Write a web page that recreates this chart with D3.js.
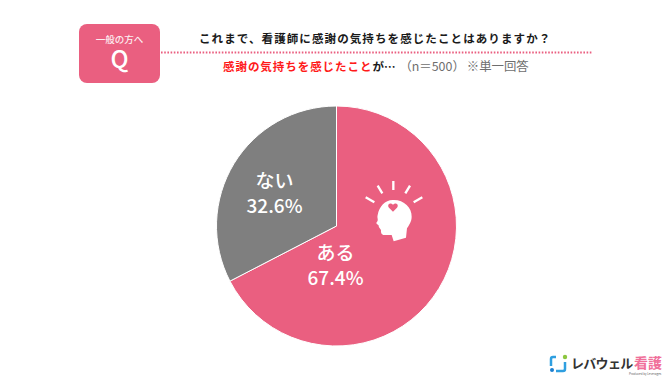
<!DOCTYPE html>
<html>
<head>
<meta charset="utf-8">
<script src="https://cdn.jsdelivr.net/npm/d3@7"></script>
<style>
html, body { margin: 0; padding: 0; background: #fff; }
text { font-family: "Noto Sans CJK JP", "Noto Sans", sans-serif; }
</style>
</head>
<body>
<div id="chart"></div>
<script>
var categories = ["ある", "ない"];
var values = [67.4, 32.6];
var sliceColors = ["#ea5f80", "#7f7f7f"];
var questionText = "これまで、看護師に感謝の気持ちを感じたことはありますか？";
var answerText = "感謝の気持ちを感じたこと";
var sampleText = "（n＝500）";
var noteText = "※単一回答";

function init(){
	var w = 672;
	var h = 378;
	var cx = 336.5;
	var cy = 226;
	var radius = 120;
	var pink = "#ea5f80";

	var svg = d3.select("#chart")
				.append("svg")
				.attr("width", w)
				.attr("height", h)
				.style("display", "block");

	//question badge
	svg.append("rect")
		.attr("x", 79).attr("y", 24)
		.attr("width", 81).attr("height", 59)
		.attr("rx", 8)
		.attr("fill", pink);
	svg.append("text")
		.attr("x", 119.5).attr("y", 42.5)
		.attr("text-anchor", "middle")
		.attr("font-size", 9.5)
		.attr("font-weight", 500)
		.attr("fill", "#fff")
		.attr("fill-opacity", 0.9)
		.text("一般の方へ");
	svg.append("text")
		.attr("x", 119.5).attr("y", 68)
		.attr("text-anchor", "middle")
		.attr("font-size", 24)
		.attr("font-weight", 500)
		.attr("fill", "#fff")
		.text("Q");

	//dotted rule
	svg.append("line")
		.attr("x1", 161).attr("x2", 592)
		.attr("y1", 52.5).attr("y2", 52.5)
		.attr("stroke", pink)
		.attr("stroke-width", 2)
		.attr("stroke-dasharray", "1.6 1.6");

	//heading
	svg.append("text")
		.attr("x", 199).attr("y", 42.5)
		.attr("font-size", 11.5)
		.attr("font-weight", 700)
		.attr("letter-spacing", 1.1)
		.attr("fill", "#1a1a1a")
		.text(questionText);

	var sub = svg.append("text")
		.attr("x", 223).attr("y", 71)
		.attr("font-size", 11.5);
	sub.append("tspan")
		.attr("font-weight", 700)
		.attr("letter-spacing", 0.95)
		.attr("fill", "#ff1a1a")
		.text(answerText);
	sub.append("tspan")
		.attr("font-weight", 700)
		.attr("fill", "#1a1a1a")
		.text("が…");
	sub.append("tspan")
		.attr("dx", 4)
		.attr("font-size", 12.4)
		.attr("fill", "#6e6e6e")
		.text(sampleText);
	sub.append("tspan")
		.attr("dx", 2)
		.attr("font-size", 12.4)
		.attr("fill", "#6e6e6e")
		.text(noteText);

	//pie
	var pie = d3.pie().sort(null);
	var arc = d3.arc().innerRadius(0).outerRadius(radius);
	var color = d3.scaleOrdinal().domain(categories).range(sliceColors);

	var g = svg.append("g")
		.attr("transform", "translate(" + cx + "," + cy + ")");

	g.selectAll("path")
		.data(pie(values))
		.enter()
		.append("path")
		.attr("d", arc)
		.attr("fill", function(d, i){ return color(categories[i]); })
		.attr("stroke", "#fff")
		.attr("stroke-width", 1);

	//slice labels
	var labelPos = [[-1, 34], [-62, -38]];
	values.forEach(function(v, i){
		g.append("text")
			.attr("x", labelPos[i][0]).attr("y", labelPos[i][1])
			.attr("text-anchor", "middle")
			.attr("font-size", 19)
			.attr("font-weight", 500)
			.attr("fill", "#fff")
			.text(categories[i]);
		g.append("text")
			.attr("x", labelPos[i][0]).attr("y", labelPos[i][1] + 25)
			.attr("text-anchor", "middle")
			.attr("font-size", 19)
			.attr("font-weight", 500)
			.attr("fill", "#fff")
			.text(v.toFixed(1) + "%");
	});

	//head icon, drawn on the 3x grid it was measured on
	var icon = svg.append("g")
		.attr("transform", "translate(350,170) scale(0.3333)");
	icon.append("path")
		.attr("d", "M128 90 C160 88 186 112 185 140 C185 155 177 165 171 175 L168 203 L131 214 L125 195 L100 195 C94 194 92 186 93 180 L86 170 C90 165 78 163 79 158 C88 150 80 145 83 135 C88 108 105 91 128 90 Z")
		.attr("fill", "#fff");
	icon.append("path")
		.attr("d", "M129 125 L117 113 C110 105 120 95 129 104 C138 95 148 105 141 113 Z")
		.attr("fill", pink);
	var rays = [[130, 33, 130, 60], [83, 47, 97, 70], [47, 82, 73, 97], [180, 47, 166, 70], [217, 82, 191, 97]];
	icon.selectAll("line")
		.data(rays)
		.enter()
		.append("line")
		.attr("x1", function(d){ return d[0]; })
		.attr("y1", function(d){ return d[1]; })
		.attr("x2", function(d){ return d[2]; })
		.attr("y2", function(d){ return d[3]; })
		.attr("stroke", "#fff")
		.attr("stroke-width", 7);

	//logo
	var logo = svg.append("g");
	logo.append("path")
		.attr("d", "M556 357 L553 357 Q551 357 551 359 L551 366")
		.attr("fill", "none")
		.attr("stroke", "#2f9fe0")
		.attr("stroke-width", 2.5);
	logo.append("path")
		.attr("d", "M565 362 L565 369 Q565 371 563 371 L556 371")
		.attr("fill", "none")
		.attr("stroke", "#2f9fe0")
		.attr("stroke-width", 2.5);
	logo.append("circle").attr("cx", 552).attr("cy", 370).attr("r", 2).attr("fill", "#1c7fd0");
	logo.append("circle").attr("cx", 565).attr("cy", 357).attr("r", 2.2).attr("fill", "#8cc63f");
	logo.append("text")
		.attr("x", 571).attr("y", 367.5)
		.attr("font-size", 13)
		.attr("font-weight", 700)
		.attr("letter-spacing", -0.7)
		.attr("fill", "#333")
		.text("レバウェル");
	logo.append("text")
		.attr("x", 634).attr("y", 367.5)
		.attr("font-size", 14)
		.attr("font-weight", 700)
		.attr("fill", "#f0709a")
		.text("看護");
	logo.append("text")
		.attr("x", 629).attr("y", 375)
		.attr("font-size", 3)
		.attr("fill", "#666")
		.text("Produced by Leverages");
}

window.onload = init;
</script>
</body>
</html>
